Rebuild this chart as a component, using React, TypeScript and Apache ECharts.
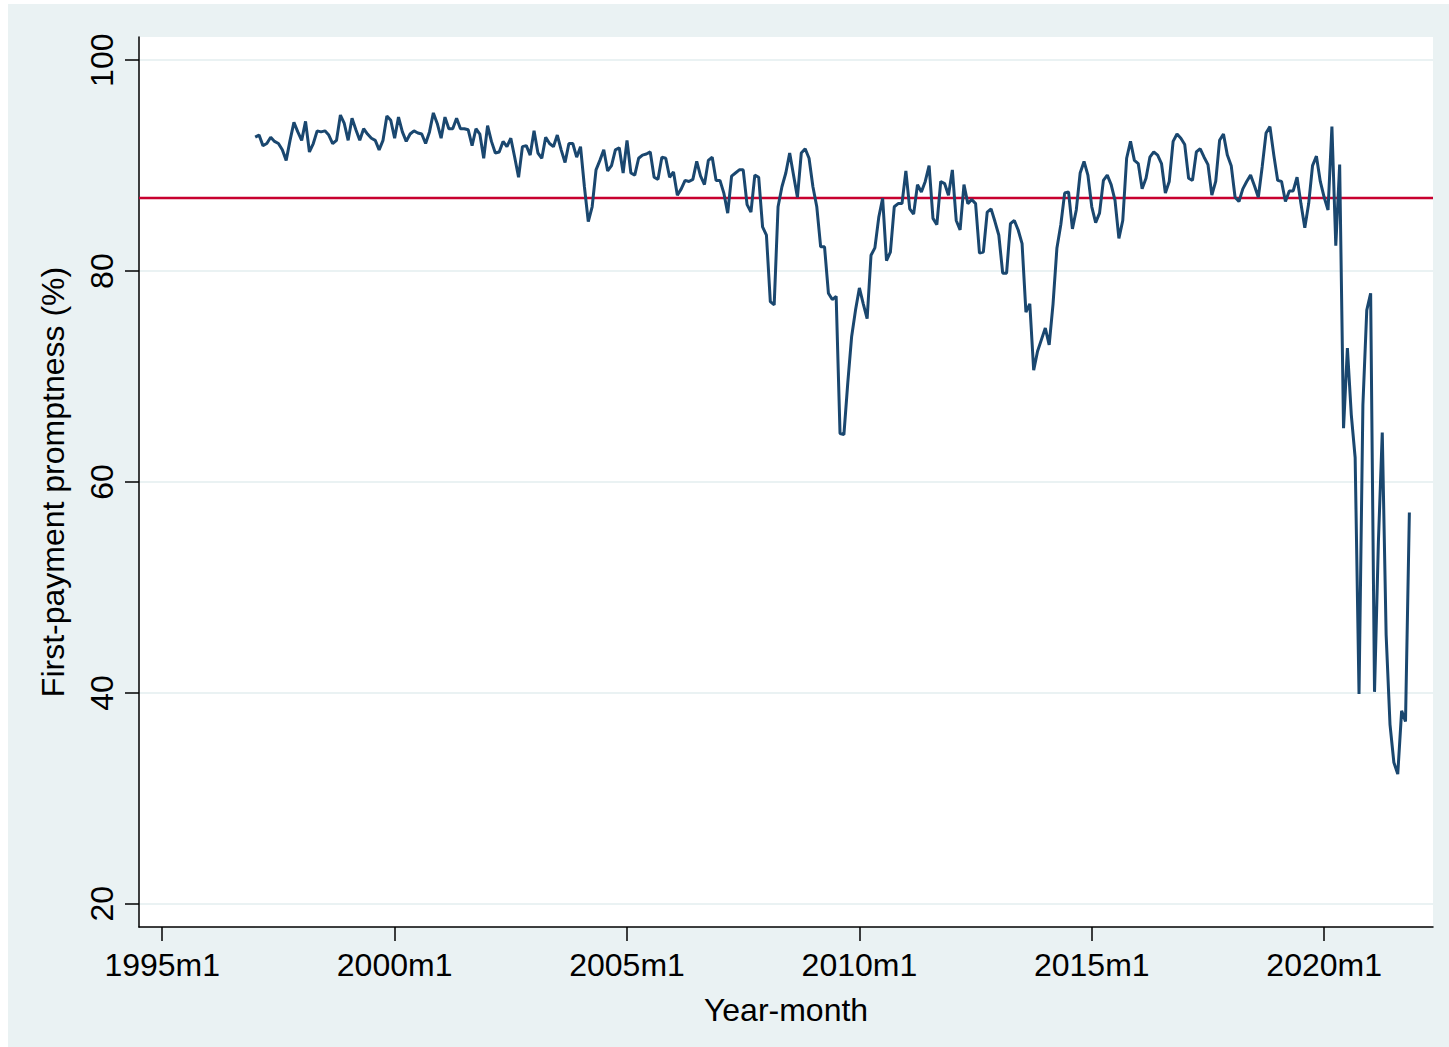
import React, { useEffect, useRef } from "react";
import * as echarts from "echarts";

// Monthly first-payment promptness (%), 1997m1 .. 2021m11
const startYear = 1997;
const startMonth = 1;
const promptness = [
  92.7, 92.9, 91.9, 92.1, 92.7, 92.3, 92.1, 91.5, 90.5, 92.4,
  94.1, 93.2, 92.4, 94.2, 91.3, 92.1, 93.3, 93.2, 93.3, 92.9,
  92.1, 92.4, 94.8, 94.0, 92.4, 94.5, 93.4, 92.4, 93.5, 93.0,
  92.6, 92.4, 91.5, 92.4, 94.7, 94.3, 92.6, 94.6, 93.2, 92.3,
  93.0, 93.3, 93.1, 93.0, 92.1, 93.2, 95.0, 94.0, 92.6, 94.6, 93.5,
  93.5, 94.5, 93.5, 93.5, 93.4, 91.9, 93.5, 93.0, 90.7, 93.8,
  92.3, 91.2, 91.3, 92.3, 91.8, 92.6, 90.8, 88.9, 91.8, 91.9,
  91.0, 93.3, 91.2, 90.7, 92.7, 92.1, 91.8, 92.9, 91.5, 90.3,
  92.1, 92.1, 90.8, 91.8, 88.0, 84.7, 86.1, 89.6, 90.5, 91.5,
  89.5, 90.0, 91.5, 91.7, 89.3, 92.4, 89.3, 89.1, 90.7,
  91.0, 91.1, 91.3, 88.9, 88.7, 90.8, 90.7, 88.9, 89.4, 87.2,
  87.8, 88.6, 88.5, 88.7, 90.4, 89.0, 88.2, 90.5, 90.8, 88.6,
  88.6, 87.4, 85.5, 89.0, 89.3, 89.6, 89.6, 86.3, 85.6, 89.1,
  88.9, 84.2, 83.4, 77.1, 76.8, 86.1, 88.0, 89.3, 91.2, 89.1,
  87.0, 91.2, 91.6, 90.7, 88.0, 86.1, 82.3, 82.3, 77.9,
  77.3, 77.6, 64.6, 64.5, 69.4, 73.8, 76.3, 78.4, 76.9, 75.5,
  81.5, 82.2, 85.1, 86.9, 81.0, 81.8, 86.1, 86.4, 86.4, 89.5,
  85.9, 85.4, 88.2, 87.5, 88.5, 90.0, 85.0, 84.4, 88.5, 88.3,
  87.2, 89.6, 84.8, 83.9, 88.2, 86.4, 86.8, 86.4, 81.7, 81.8,
  85.6, 85.9, 84.7, 83.4, 79.8, 79.8, 84.5, 84.8, 83.9,
  82.6, 76.1, 76.9, 70.6, 72.4, 73.5, 74.6, 73.0, 76.9, 82.2,
  84.4, 87.4, 87.5, 84.0, 85.8, 89.3, 90.4, 89.1, 86.1, 84.6,
  85.5, 88.6, 89.1, 88.2, 86.7, 83.1, 84.8, 90.7, 92.3, 90.5,
  90.2, 87.8, 88.8, 90.8, 91.3, 91.0, 90.2, 87.4, 88.5, 92.3,
  93.0, 92.6, 92.0, 88.8, 88.6, 91.3, 91.6, 90.8, 90.1,
  87.2, 88.5, 92.4, 93.0, 91.0, 90.0, 87.0, 86.6, 87.8, 88.5,
  89.1, 88.1, 87.0, 89.9, 93.1, 93.7, 91.0, 88.6, 88.5, 86.6,
  87.6, 87.6, 88.9, 86.4, 84.1, 86.4, 90.0, 90.9, 88.5, 87.0,
  85.8, 93.7, 82.4, 90.1, 65.1, 72.7, 66.4, 62.3, 39.9, 67.3,
  76.3, 77.9, 40.1, 54.3, 64.7, 45.5, 37.0, 33.4, 32.3, 38.3,
  37.3, 57.1,
];

const referenceLevel = 87;

const baseYear = 1995;
const xTickValues = [0, 60, 120, 180, 240, 300];
const xTickLabels = ["1995m1", "2000m1", "2005m1", "2010m1", "2015m1", "2020m1"];
const yTickValues = [20, 40, 60, 80, 100];

const FONT = "'Liberation Sans', Arial, Helvetica, sans-serif";
const BG = "#EAF2F3";

export default function App() {
  const ref = useRef<HTMLDivElement>(null);

  useEffect(() => {
    if (!ref.current) return;
    const chart = echarts.init(ref.current, undefined, { renderer: "svg" });
    const offset = (startYear - baseYear) * 12 + (startMonth - 1);
    const seriesData = promptness.map((v, i) => [offset + i, v]);

    chart.setOption({
      animation: false,
      backgroundColor: "#ffffff",
      textStyle: { fontFamily: FONT },
      graphic: {
        elements: [
          {
            type: "rect",
            z: -100,
            silent: true,
            shape: { x: 8, y: 4, width: 1441, height: 1043 },
            style: { fill: BG },
          },
        ],
      },
      grid: {
        left: 139,
        top: 37,
        right: 16,
        bottom: 120,
        show: true,
        backgroundColor: "#ffffff",
        borderWidth: 0,
        containLabel: false,
      },
      xAxis: {
        type: "value",
        min: -6.0,
        max: 328.1,
        name: "Year-month",
        nameLocation: "middle",
        nameGap: 67,
        nameTextStyle: { fontSize: 32, color: "#000", fontFamily: FONT },
        axisLine: { show: true, onZero: false, lineStyle: { color: "#000", width: 1.5 } },
        axisTick: {
          show: true,
          length: 14,
          customValues: xTickValues,
          lineStyle: { color: "#000", width: 1.5 },
        },
        axisLabel: {
          customValues: xTickValues,
          margin: 22,
          fontSize: 32,
          color: "#000",
          fontFamily: FONT,
          formatter: (v: number) => {
            const idx = xTickValues.indexOf(Math.round(v));
            return idx >= 0 ? xTickLabels[idx] : "";
          },
        },
        splitLine: { show: false },
      },
      yAxis: {
        type: "value",
        min: 17.8,
        max: 102.2,
        name: "First-payment promptness (%)",
        nameLocation: "middle",
        nameRotate: 90,
        nameGap: 70,
        nameTextStyle: { fontSize: 32, color: "#000", fontFamily: FONT },
        axisLine: { show: true, onZero: false, lineStyle: { color: "#000", width: 1.5 } },
        axisTick: {
          show: true,
          length: 14,
          customValues: yTickValues,
          lineStyle: { color: "#000", width: 1.5 },
        },
        axisLabel: {
          customValues: yTickValues,
          rotate: 90,
          margin: 21,
          fontSize: 32,
          color: "#000",
          fontFamily: FONT,
        },
        splitLine: { show: true, lineStyle: { color: BG, width: 2 } },
      },
      series: [
        {
          type: "line",
          data: seriesData,
          showSymbol: false,
          symbol: "none",
          lineStyle: { color: "#1A476F", width: 3 },
          z: 3,
          markLine: {
            silent: true,
            symbol: "none",
            label: { show: false },
            lineStyle: { color: "#C8002F", width: 2.4, type: "solid" },
            data: [{ yAxis: referenceLevel }],
            z: 2,
          },
        },
      ],
    });

    return () => chart.dispose();
  }, []);

  return (
    <div
      ref={ref}
      style={{ position: "fixed", left: 0, top: 0, width: 1449, height: 1047 }}
    />
  );
}
